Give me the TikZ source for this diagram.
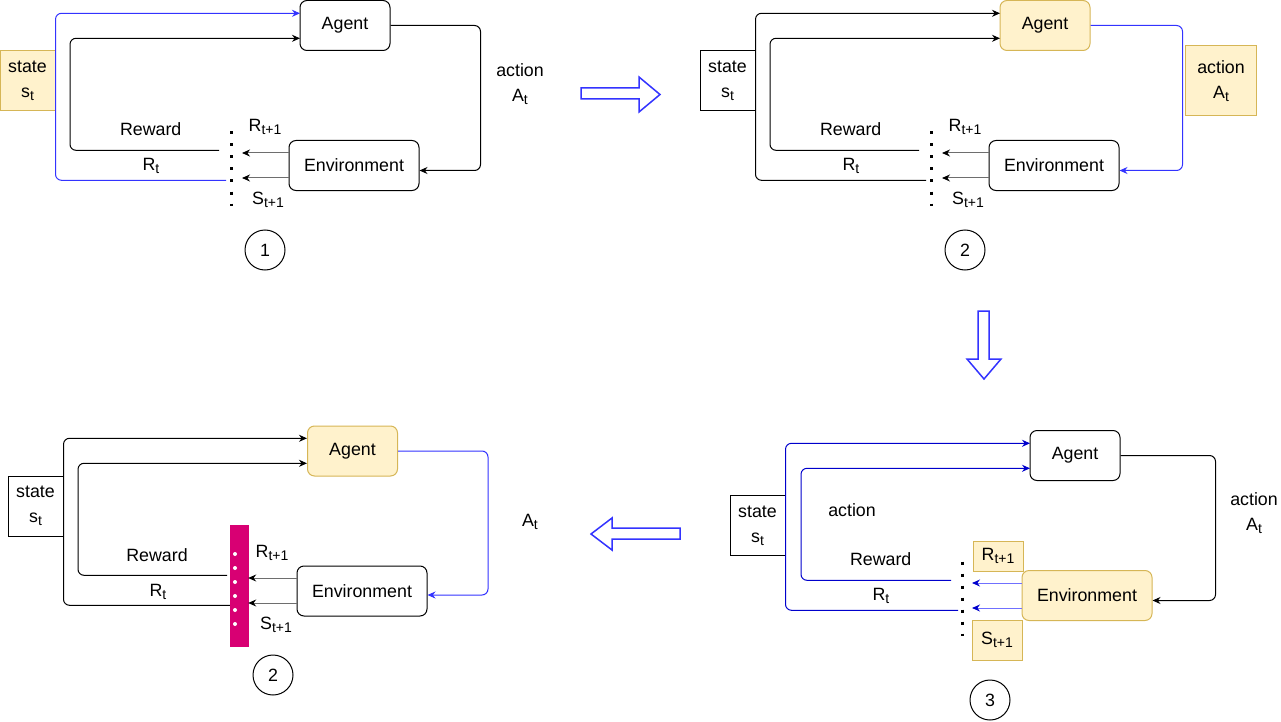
\documentclass[tikz,border=0pt]{standalone}
\usepackage{fontspec}
\setmainfont{Liberation Sans}
\usetikzlibrary{arrows.meta,positioning}
\definecolor{softyellow}{RGB}{255,242,204}
\definecolor{edgeyellow}{RGB}{214,182,86}
\definecolor{flowblue}{RGB}{51,51,255}
\definecolor{deepblue}{RGB}{0,0,204}
\definecolor{barpink}{RGB}{216,0,115}
\definecolor{linegray}{RGB}{110,110,110}
\newcommand{\subtx}[1]{\raisebox{-0.35ex}{\fontsize{14}{14}\selectfont #1}}

\begin{document}
\begin{tikzpicture}[
    x=1pt, y=-1pt,
    every node/.style={font=\fontsize{17.8}{25}\selectfont},
    box/.style={draw, rounded corners=7pt, line width=1pt, minimum height=50pt, inner sep=0pt},
    agentbox/.style={box, minimum width=90pt},
    envbox/.style={box, minimum width=130pt},
    statebox/.style={draw, line width=1pt, minimum width=55pt, minimum height=60pt, align=center, inner sep=0pt},
    hl/.style={fill=softyellow, draw=edgeyellow},
    num/.style={draw, circle, line width=1pt, minimum size=40pt, inner sep=0pt},
    flow/.style={line width=1pt, rounded corners=6pt},
    arrow/.style={flow, -{Stealth[length=8pt, width=7pt]}},
    tick/.style={flow, draw=linegray, -{Stealth[length=8pt, width=7pt, color=black]}},
    bluetick/.style={flow, draw=flowblue!70, -{Stealth[length=8pt, width=7pt, color=deepblue]}},
    dotcolumn/.style={line width=3pt, dash pattern=on 3pt off 9pt},
    bigarrow/.style={draw=flowblue, line width=1.5pt, line join=miter}
  ]
  \useasboundingbox (0,0) rectangle (1281,722);

  % panel 1
  \node[agentbox] (agentA) at (345,25.5) {Agent};
  \node[envbox] (envA) at (354,165.5) {Environment};
  \node[statebox, hl] (stateA) at (27.5,80.5) {state\\s\subtx{t}};
  \coordinate (inA1) at (300,13.3);
  \coordinate (inA2) at (300,38.3);
  \coordinate (bendA) at (70,38.3);
  \coordinate (tapA1) at (219,150.3);
  \coordinate (tapA2) at (226,180.3);
  \coordinate (outA) at ([yshift=-5pt]envA.east);
  \coordinate (rA1) at (242,153);
  \coordinate (rA2) at (242,178);
  \draw[arrow, flowblue] (tapA2) -| (stateA.east |- inA1) -- (inA1);
  \draw[arrow] (tapA1) -| (bendA) -- (inA2);
  \draw[arrow] (agentA.east) -- ++(90,0) |- (outA);
  \draw[tick] (envA.west |- rA1) -- (rA1);
  \draw[tick] (envA.west |- rA2) -- (rA2);
  \draw[dotcolumn] (231,131.5) -- (231,206);
  \node (rewA) at (150.7,129) {Reward};
  \node (rtA) at (151,166) {R\subtx{t}};
  \node (rnextA) at (265,127) {R\subtx{t+1}};
  \node (snextA) at (268,200) {S\subtx{t+1}};
  \node[align=center] (actA) at (520,84) {action\\A\subtx{t}};
  \node[num] (numA) at (265,250) {1};

  % panel 2
  \begin{scope}[shift={(700,0)}]
    \node[agentbox, hl] (agentB) at (345,25.5) {Agent};
    \node[envbox] (envB) at (354,165.5) {Environment};
    \node[statebox] (stateB) at (27.5,80.5) {state\\s\subtx{t}};
    \node[statebox, hl, minimum width=71pt, minimum height=70pt] (actB) at (521,81) {action\\A\subtx{t}};
    \coordinate (inB1) at (300,13.3);
    \coordinate (inB2) at (300,38.3);
    \coordinate (bendB) at (70,38.3);
    \coordinate (tapB1) at (219,150.3);
    \coordinate (tapB2) at (226,180.3);
    \coordinate (outB) at ([yshift=-5pt]envB.east);
    \coordinate (rB1) at (242,153);
    \coordinate (rB2) at (242,178);
    \draw[arrow] (tapB2) -| (stateB.east |- inB1) -- (inB1);
    \draw[arrow] (tapB1) -| (bendB) -- (inB2);
    \draw[arrow, flowblue] (agentB.east) -- ++(92,0) |- (outB);
    \draw[tick] (envB.west |- rB1) -- (rB1);
    \draw[tick] (envB.west |- rB2) -- (rB2);
    \draw[dotcolumn] (231,131.5) -- (231,206);
    \node (rewB) at (150.7,129) {Reward};
    \node (rtB) at (151,166) {R\subtx{t}};
    \node (rnextB) at (265,127) {R\subtx{t+1}};
    \node (snextB) at (268,200) {S\subtx{t+1}};
    \node[num] (numB) at (265,250) {2};
  \end{scope}

  % panel 3
  \begin{scope}[shift={(730,430)}]
    \node[agentbox] (agentC) at (345,25.5) {Agent};
    \node[envbox, hl] (envC) at (357,165.5) {Environment};
    \node[statebox] (stateC) at (27.5,95.5) {state\\s\subtx{t}};
    \node[draw=edgeyellow, fill=softyellow, line width=1pt, minimum width=50pt, minimum height=30pt, inner sep=0pt] (rnextC) at (268,126) {R\subtx{t+1}};
    \node[draw=edgeyellow, fill=softyellow, line width=1pt, minimum width=50pt, minimum height=40pt, inner sep=0pt] (snextC) at (267,210) {S\subtx{t+1}};
    \coordinate (inC1) at (300,13.3);
    \coordinate (inC2) at (300,38.3);
    \coordinate (bendC) at (71,38.3);
    \coordinate (tapC1) at (221,150.3);
    \coordinate (tapC2) at (228,180.3);
    \coordinate (outC) at ([yshift=-5pt]envC.east);
    \coordinate (rC1) at (242,153);
    \coordinate (rC2) at (242,178);
    \draw[arrow, deepblue] (tapC2) -| (stateC.east |- inC1) -- (inC1);
    \draw[arrow, deepblue] (tapC1) -| (bendC) -- (inC2);
    \draw[arrow] (agentC.east) -- ++(95,0) |- (outC);
    \draw[bluetick] (envC.west |- rC1) -- (rC1);
    \draw[bluetick] (envC.west |- rC2) -- (rC2);
    \draw[dotcolumn] (232,131.5) -- (232,206);
    \node (actlblC) at (122,80) {action};
    \node (rewC) at (150.7,129) {Reward};
    \node (rtC) at (151,166) {R\subtx{t}};
    \node[align=center] (actC) at (524,83) {action\\A\subtx{t}};
    \node[num] (numC) at (260,270) {3};
  \end{scope}

  % panel 4
  \begin{scope}[shift={(8,425)}]
    \node[agentbox, hl] (agentD) at (344.5,26) {Agent};
    \node[envbox] (envD) at (354,166) {Environment};
    \node[statebox] (stateD) at (27.5,81) {state\\s\subtx{t}};
    \coordinate (inD1) at (299,13.3);
    \coordinate (inD2) at (299,38.3);
    \coordinate (bendD) at (70,38.3);
    \coordinate (tapD1) at (219,150.3);
    \coordinate (tapD2) at (224,180.3);
    \coordinate (outD) at ([yshift=-4pt]envD.east);
    \draw[arrow] (tapD2) -| (stateD.east |- inD1) -- (inD1);
    \draw[arrow] (tapD1) -| (bendD) -- (inD2);
    \draw[arrow, flowblue] (agentD.east) -- ++(90,0) |- (outD);
    \node[fill=barpink, draw=barpink, minimum width=18pt, minimum height=121pt, inner sep=0pt] (barD) at (231,160.5) {};
    \foreach \k in {0,...,5}
      \fill[white] (227,129+14*\k) circle (2pt);
    \coordinate (rD1) at (barD.east |- 0,153);
    \coordinate (rD2) at (barD.east |- 0,178);
    \draw[tick] (envD.west |- rD1) -- (rD1);
    \draw[tick] (envD.west |- rD2) -- (rD2);
    \node (rewD) at (149,130) {Reward};
    \node (rtD) at (150,167) {R\subtx{t}};
    \node (rnextD) at (264,128) {R\subtx{t+1}};
    \node (snextD) at (268,200) {S\subtx{t+1}};
    \node (actD) at (522,97) {A\subtx{t}};
    \node[num] (numD) at (265,250) {2};
  \end{scope}

  % block arrows between panels
  \draw[bigarrow] (581,88) -- (639,88) -- (639,77) -- (660,94.5) -- (639,112) -- (639,99) -- (581,99) -- cycle;
  \draw[bigarrow] (978,311) -- (989,311) -- (989,359) -- (1001,359) -- (984,379) -- (967,359) -- (978,359) -- cycle;
  \draw[bigarrow] (680,528) -- (612,528) -- (612,518) -- (591,534) -- (612,550) -- (612,539) -- (680,539) -- cycle;
\end{tikzpicture}
\end{document}
